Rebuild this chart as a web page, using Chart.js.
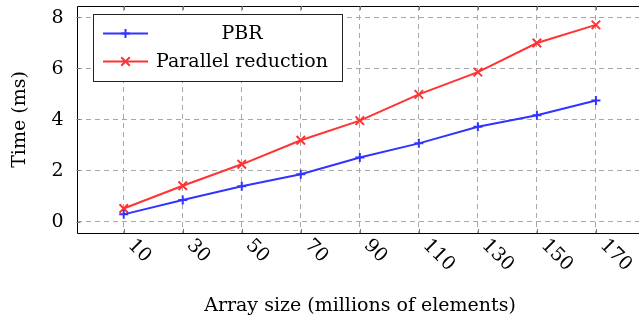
<!DOCTYPE html>
<html><head><meta charset="utf-8">
<script src="https://cdn.jsdelivr.net/npm/chart.js@4.4.1/dist/chart.umd.min.js"></script>
<style>html,body{margin:0;padding:0;overflow:hidden;background:#fff}#wrap{width:639px;height:325px;position:relative}</style>
</head><body><div id="wrap"><canvas id="c" width="639" height="325"></canvas></div>
<script>
const sizes = [10, 30, 50, 70, 90, 110, 130, 150, 170];
const pbrTimes = [0.28, 0.84, 1.38, 1.85, 2.51, 3.06, 3.71, 4.16, 4.74];
const reductionTimes = [0.51, 1.40, 2.24, 3.18, 3.95, 4.98, 5.85, 6.99, 7.70];
const xTicks = [10, 30, 50, 70, 90, 110, 130, 150, 170];
const yTicks = [0, 2, 4, 6, 8];
const seriesNames = ['PBR', 'Parallel reduction'];
const xTitle = 'Array size (millions of elements)';
const yTitle = 'Time (ms)';

const FONT = '19px "DejaVu Serif", serif';
const BLUE = '#3333ff', RED = '#ff3333';

const decor = {
  id: 'decor',
  afterDatasetsDraw(chart) {
    const ctx = chart.ctx, a = chart.chartArea;
    const xs = chart.scales.x, ys = chart.scales.y;
    ctx.save();
    // frame
    ctx.strokeStyle = '#000'; ctx.lineWidth = 1;
    ctx.beginPath();
    ctx.moveTo(a.right + 5, Math.round(a.top) + 0.5);
    ctx.lineTo(Math.round(a.left) + 0.5, Math.round(a.top) + 0.5);
    ctx.lineTo(Math.round(a.left) + 0.5, Math.round(a.bottom) + 0.5);
    ctx.lineTo(a.right + 5, Math.round(a.bottom) + 0.5);
    ctx.stroke();
    // inner ticks
    ctx.strokeStyle = '#777';
    ctx.beginPath();
    xTicks.forEach(v => {
      const px = Math.round(xs.getPixelForValue(v)) + 0.5;
      ctx.moveTo(px, a.bottom); ctx.lineTo(px, a.bottom - 4);
      ctx.moveTo(px, a.top); ctx.lineTo(px, a.top + 4);
    });
    yTicks.forEach(v => {
      const py = Math.round(ys.getPixelForValue(v)) + 0.5;
      ctx.moveTo(a.left, py); ctx.lineTo(a.left + 4, py);
    });
    ctx.stroke();
    // y tick labels
    ctx.fillStyle = '#000';
    ctx.font = FONT;
    ctx.textAlign = 'right'; ctx.textBaseline = 'middle';
    yTicks.forEach(v => ctx.fillText(String(v), a.left - 13, ys.getPixelForValue(v) + 1));
    // x tick labels rotated
    ctx.textAlign = 'left'; ctx.textBaseline = 'alphabetic';
    xTicks.forEach(v => {
      const px = xs.getPixelForValue(v);
      ctx.save();
      ctx.translate(px + 3.5, a.bottom + 13);
      ctx.rotate(Math.PI / 4);
      ctx.fillText(String(v), 0, 0);
      ctx.restore();
    });
    // axis titles
    ctx.textAlign = 'center'; ctx.textBaseline = 'middle';
    ctx.fillText(xTitle, 360, 306);
    ctx.save();
    ctx.translate(20, (a.top + a.bottom) / 2);
    ctx.rotate(-Math.PI / 2);
    ctx.fillText(yTitle, 0, 0);
    ctx.restore();
    // legend
    ctx.fillStyle = '#fff';
    ctx.fillRect(93.5, 14.5, 249, 67);
    ctx.strokeStyle = '#222'; ctx.lineWidth = 1;
    ctx.strokeRect(93.5, 14.5, 249, 67);
    const rows = [33.5, 61.5];
    chart.data.datasets.forEach((ds, i) => {
      const y = rows[i];
      ctx.strokeStyle = ds.borderColor; ctx.lineWidth = 2;
      ctx.beginPath(); ctx.moveTo(103, y); ctx.lineTo(148, y); ctx.stroke();
      Chart.helpers.drawPoint(ctx, {pointStyle: ds.pointStyle, radius: ds.pointRadius, borderWidth: 2, rotation: 0}, 125.5, y);
      ctx.fillStyle = '#000';
      ctx.textAlign = 'center'; ctx.textBaseline = 'middle';
      ctx.fillText(seriesNames[i], 242, y + 1);
    });
    ctx.restore();
  }
};

new Chart(document.getElementById('c'), {
  type: 'line',
  data: {
    datasets: [
      { label: seriesNames[0], data: sizes.map((x, i) => ({x, y: pbrTimes[i]})),
        borderColor: BLUE, backgroundColor: BLUE, borderWidth: 2, pointStyle: 'cross',
        pointRadius: 4.5, pointBorderWidth: 2, pointBorderColor: BLUE, tension: 0, fill: false },
      { label: seriesNames[1], data: sizes.map((x, i) => ({x, y: reductionTimes[i]})),
        borderColor: RED, backgroundColor: RED, borderWidth: 2, pointStyle: 'crossRot',
        pointRadius: 6, pointBorderWidth: 2, pointBorderColor: RED, tension: 0, fill: false }
    ]
  },
  options: {
    responsive: false, animation: false, events: [],
    layout: { autoPadding: false, padding: { left: 76.5, top: 6, right: 0, bottom: 92 } },
    plugins: { legend: { display: false }, tooltip: { enabled: false } },
    scales: {
      x: { type: 'linear', min: -6, max: 184.6,
        afterBuildTicks: s => { s.ticks = xTicks.map(v => ({value: v})); },
        ticks: { display: false },
        grid: { color: '#a8a8a8', lineWidth: 1, drawTicks: false },
        border: { display: false, dash: [5, 4] } },
      y: { type: 'linear', min: -0.45, max: 8.44,
        afterBuildTicks: s => { s.ticks = yTicks.map(v => ({value: v})); },
        ticks: { display: false },
        grid: { color: '#a8a8a8', lineWidth: 1, drawTicks: false },
        border: { display: false, dash: [5, 4] } }
    }
  },
  plugins: [decor]
});
</script></body></html>
